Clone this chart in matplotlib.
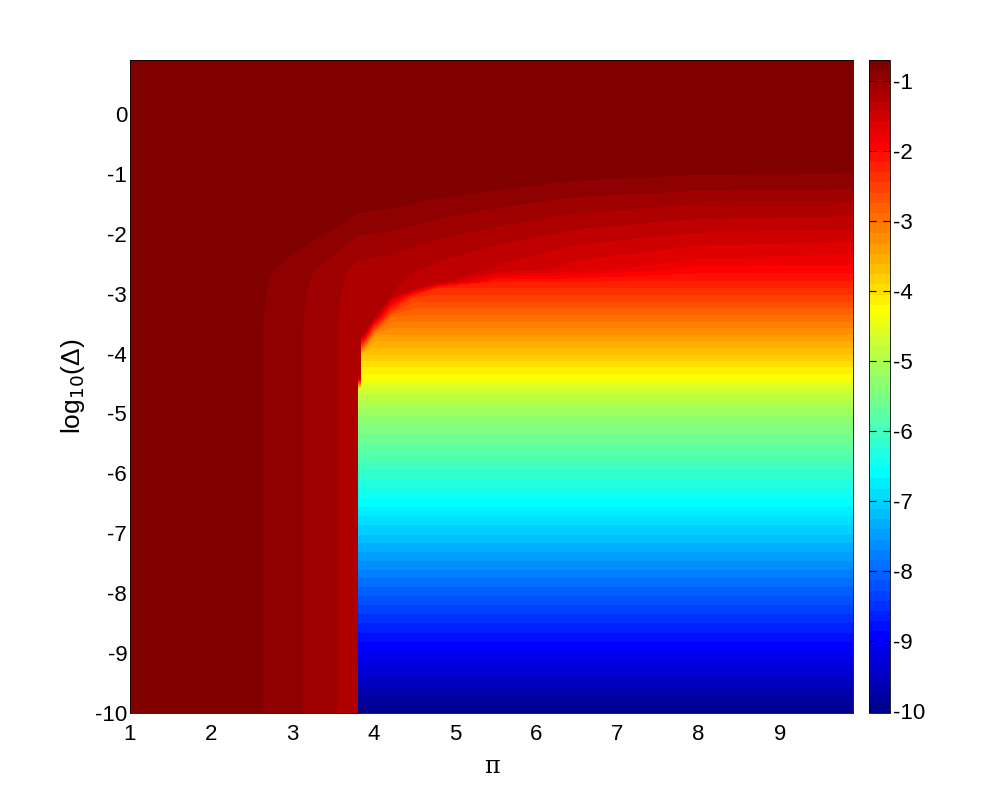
import matplotlib
matplotlib.use("Agg")

import matplotlib.pyplot as plt
import numpy as np
from matplotlib.colors import ListedColormap


# ==========================================
# 1. 数据
# ==========================================

# 横轴 π 的节点，以及小 Δ 时偏差项 log10 值
pi_values = [1.0, 2.0, 2.63, 2.85, 3.12, 3.35, 3.55, 3.7, 3.80, 3.805,
             3.835, 3.84, 3.86, 4.0, 4.2, 4.5, 4.8, 5.5, 6.5, 8.0, 9.9]
bias_by_pi = [-0.70, -0.78, -0.846, -0.91, -0.992, -1.07, -1.137, -1.22,
              -1.27, -1.27, -1.272, -1.272, -1.275, -1.29, -1.31, -1.38,
              -1.45, -1.62, -1.95, -2.5, -3.0]

# 纵轴 log10(Δ) 的节点
delta_log = [-10, -9, -8, -7, -6, -5, -4.6, -4.4, -4.0, -3.7, -3.4,
             -3.05, -2.9, -2.8, -2.6, -2.4, -2.2, -2.0, -1.75, -1.5,
             -1.25, -1.0, -0.5, 0.0, 0.9]
# 噪声项（大 π 处的数值）
noise_by_delta = [-10.03, -9.05, -8.1, -7.1, -6.15, -5.2, -4.7, -4.3, -3.75,
                  -3.35, -2.95, -2.5, -2.3, -2.18, -1.95, -1.8, -1.65, -1.5,
                  -1.33, -1.17, -1.0, -0.86, -0.74, -0.71, -0.70]
# 大 Δ 时偏差项的抬升
bias_lift_by_delta = [0, 0, 0, 0, 0, 0, 0, 0, 0, 0, 0,
                      0, 0, 0, 0, 0.04, 0.085, 0.13, 0.19, 0.24,
                      0.27, 0.30, 0.35, 0.40, 0.45]
# 偏差项存在的 π 上界
bias_edge_pi = [3.803, 3.803, 3.803, 3.803, 3.803, 3.803, 3.803, 3.838,
                3.838, 3.93, 4.1, 4.35, 4.65, 5.2, 7.0, 11, 11, 11, 11,
                11, 11, 11, 11, 11, 11]

color_min = -10.03
color_max = -0.70
colorbar_ticks = [-1, -2, -3, -4, -5, -6, -7, -8, -9, -10]
x_ticks = [1, 2, 3, 4, 5, 6, 7, 8, 9]
y_ticks = [0, -1, -2, -3, -4, -5, -6, -7, -8, -9, -10]


# ==========================================
# 2. 组合误差场
# ==========================================

pi_grid = np.array(pi_values)
delta_grid = np.array(delta_log)

bias = (
    np.array(bias_by_pi)[None, :]
    + np.array(bias_lift_by_delta)[:, None]
)
inside = pi_grid[None, :] < np.array(bias_edge_pi)[:, None]

error_log = np.log10(
    10 ** np.array(noise_by_delta)[:, None]
    + np.where(inside, 10 ** bias, 0.0)
)
error_log = np.clip(error_log, color_min + 1e-6, color_max - 1e-6)


# ==========================================
# 3. MATLAB 风格 jet(64)
# ==========================================

n = 64
m = n // 4
u = np.concatenate([np.arange(1, m + 1) / m, np.ones(m - 1), np.arange(m, 0, -1) / m])
g = m // 2 + np.arange(1, len(u) + 1)
r = g + m
b = g - m
jet = np.zeros((n, 3))
r_ok = r[r <= n]
jet[r_ok - 1, 0] = u[:len(r_ok)]
jet[g - 1, 1] = u
b_ok = b[b >= 1]
jet[b_ok - 1, 2] = u[-len(b_ok):]
jet_cmap = ListedColormap(jet)


# ==========================================
# 4. 绘图
# ==========================================

plt.rcParams["font.family"] = ["Liberation Sans", "DejaVu Sans"]
plt.rcParams["axes.unicode_minus"] = False

fig = plt.figure(figsize=(9.99, 8.0), dpi=100)
ax = fig.add_axes([0.1301, 0.10875, 0.7238, 0.81625])

levels = np.linspace(color_min, color_max, n + 1)
cs = ax.contourf(
    pi_grid,
    delta_grid,
    error_log,
    levels=levels,
    cmap=jet_cmap,
    vmin=color_min,
    vmax=color_max,
)

ax.set_xlim(1, 9.9)
ax.set_ylim(-10, 0.9)
ax.set_xticks(x_ticks)
ax.set_yticks(y_ticks)
ax.tick_params(length=0, labelsize=16)
ax.tick_params(axis="x", pad=8)
ax.tick_params(axis="y", pad=2)
for spine in ax.spines.values():
    spine.set_linewidth(0.6)

ax.set_xlabel("π", fontsize=17, family=["DejaVu Serif"], labelpad=7)
ax.set_ylabel("log$_{10}$(Δ)", fontsize=19, labelpad=6)

cax = fig.add_axes([0.8699, 0.10875, 0.021, 0.81625])
cb = fig.colorbar(cs, cax=cax, ticks=colorbar_ticks)
cb.outline.set_linewidth(0.6)
cax.tick_params(direction="in", left=True, right=True, length=5,
                width=0.8, labelsize=16, pad=2)

fig.savefig("out.png", dpi=100)
